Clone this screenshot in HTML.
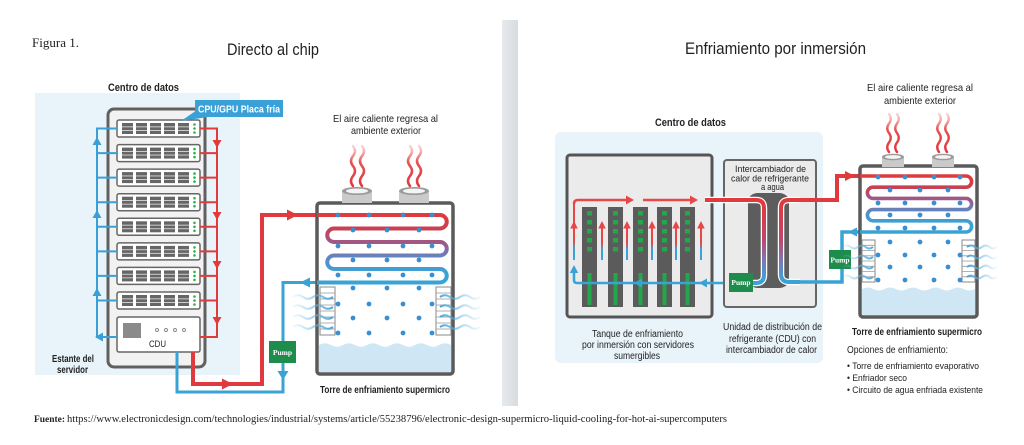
<!DOCTYPE html>
<html>
<head>
<meta charset="utf-8">
<style>
html,body{margin:0;padding:0;background:#fff;}
svg{display:block;}
text{font-family:"Liberation Sans",Arial,sans-serif;fill:#222;}
.serif{font-family:"Liberation Serif","Times New Roman",serif;}
</style>
</head>
<body>
<svg width="1024" height="445" viewBox="0 0 1024 445" xmlns="http://www.w3.org/2000/svg">
<defs>
  <linearGradient id="coilL" gradientUnits="userSpaceOnUse" x1="0" y1="215" x2="0" y2="283">
    <stop offset="0" stop-color="#e03a3e"/>
    <stop offset="0.2" stop-color="#c9404f"/>
    <stop offset="0.42" stop-color="#9a5a8c"/>
    <stop offset="0.65" stop-color="#5a8cc8"/>
    <stop offset="0.85" stop-color="#3aa3d6"/>
  </linearGradient>
  <linearGradient id="coilR" gradientUnits="userSpaceOnUse" x1="0" y1="176" x2="0" y2="232">
    <stop offset="0" stop-color="#e03a3e"/>
    <stop offset="0.2" stop-color="#c9404f"/>
    <stop offset="0.42" stop-color="#9a5a8c"/>
    <stop offset="0.65" stop-color="#5a8cc8"/>
    <stop offset="0.85" stop-color="#3aa3d6"/>
  </linearGradient>
  <linearGradient id="hx" gradientUnits="userSpaceOnUse" x1="0" y1="205" x2="0" y2="280">
    <stop offset="0" stop-color="#e03a3e"/>
    <stop offset="0.45" stop-color="#c2456a"/>
    <stop offset="0.75" stop-color="#7a7ab8"/>
    <stop offset="1" stop-color="#3aa3d6"/>
  </linearGradient>
  <linearGradient id="steam" x1="0" y1="1" x2="0" y2="0">
    <stop offset="0" stop-color="#e03a3e" stop-opacity="1"/>
    <stop offset="0.6" stop-color="#e44848" stop-opacity="0.95"/>
    <stop offset="1" stop-color="#f08888" stop-opacity="0.35"/>
  </linearGradient>
  <linearGradient id="airL" x1="0" y1="0" x2="1" y2="0">
    <stop offset="0" stop-color="#7cc3e6" stop-opacity="0.1"/>
    <stop offset="1" stop-color="#4aa6da" stop-opacity="1"/>
  </linearGradient>
  <linearGradient id="airR" x1="0" y1="0" x2="1" y2="0">
    <stop offset="0" stop-color="#4aa6da" stop-opacity="1"/>
    <stop offset="1" stop-color="#7cc3e6" stop-opacity="0.1"/>
  </linearGradient>
  <linearGradient id="tankArr" x1="0" y1="0" x2="0" y2="1">
    <stop offset="0" stop-color="#e8474a"/>
    <stop offset="0.5" stop-color="#e8474a"/>
    <stop offset="0.68" stop-color="#3aa3d6"/>
    <stop offset="1" stop-color="#3aa3d6"/>
  </linearGradient>
  <linearGradient id="tankArrL" x1="0" y1="0" x2="0" y2="1">
    <stop offset="0" stop-color="#e8474a"/>
    <stop offset="0.65" stop-color="#e8474a"/>
    <stop offset="0.82" stop-color="#3aa3d6"/>
    <stop offset="1" stop-color="#3aa3d6"/>
  </linearGradient>
  <linearGradient id="div" x1="0" y1="0" x2="1" y2="0">
    <stop offset="0" stop-color="#e6eaed"/>
    <stop offset="1" stop-color="#d6dce0"/>
  </linearGradient>

  <g id="blk">
    <rect width="11" height="11" fill="#666"/>
    <rect y="3.4" width="11" height="0.9" fill="#d8d8d8"/>
    <rect y="7" width="11" height="0.9" fill="#d8d8d8"/>
  </g>
  <g id="unit">
    <rect x="0" y="0" width="83" height="17" rx="2" fill="#fff" stroke="#666" stroke-width="1.5"/>
    <use href="#blk" x="5" y="3"/>
    <use href="#blk" x="19" y="3"/>
    <use href="#blk" x="33" y="3"/>
    <use href="#blk" x="47" y="3"/>
    <use href="#blk" x="61" y="3"/>
    <circle cx="77.5" cy="4.5" r="1.3" fill="#2db34a"/>
    <circle cx="77.5" cy="8.5" r="1.3" fill="#2db34a"/>
    <circle cx="77.5" cy="12.5" r="1.3" fill="#2db34a"/>
  </g>
  <g id="blade">
    <rect width="15" height="100" fill="#5b5b5b"/>
    <rect x="5" y="4" width="5" height="4.5" fill="#22a84a"/>
    <rect x="5" y="13" width="5" height="4.5" fill="#22a84a"/>
    <rect x="5" y="22" width="5" height="4.5" fill="#22a84a"/>
    <rect x="5" y="31" width="5" height="4.5" fill="#22a84a"/>
    <rect x="5" y="40" width="5" height="4.5" fill="#22a84a"/>
    <rect x="5.5" y="66" width="4" height="32" fill="#22a84a"/>
  </g>
  <g id="tarr">
    <rect x="-1" y="5" width="2" height="34" fill="url(#tankArr)"/>
    <polygon points="0,0 -3.8,7.5 3.8,7.5" fill="#e8474a"/>
  </g>
  <circle id="drop" r="2.4" fill="#3b8fd1"/>
  <path id="wave" d="M0,0 q5,-3.5 10,0 t10,0 t10,0 t10,0" fill="none" stroke-width="2"/>
  <path id="waveS" d="M0,0 q4,-3 7.5,0 t7.5,0 t7.5,0 t7.5,0" fill="none" stroke-width="2"/>
  <path id="stm" d="M0,0 q-4,-5 0,-10 t0,-10 t0,-10 t0,-10" fill="none" stroke="url(#steam)" stroke-width="2.5" stroke-linecap="round"/>
  <path id="stmS" d="M0,0 q-3.5,-4.75 0,-9.5 t0,-9.5 t0,-9.5 t0,-9.5" fill="none" stroke="url(#steam)" stroke-width="2.4" stroke-linecap="round"/>
</defs>

<!-- ===== LEFT PANEL ===== -->
<text class="serif" x="32" y="47" font-size="13" textLength="47" lengthAdjust="spacingAndGlyphs">Figura 1.</text>
<text x="227" y="55" font-size="16.5" textLength="92" lengthAdjust="spacingAndGlyphs">Directo al chip</text>

<rect x="35" y="93" width="205" height="282" fill="#e9f3fa"/>
<text x="108" y="91" font-size="11" font-weight="bold" textLength="71" lengthAdjust="spacingAndGlyphs">Centro de datos</text>

<!-- rack -->
<rect x="108" y="109" width="97" height="258" rx="6" fill="#f2f2f2" stroke="#606060" stroke-width="3"/>
<use href="#unit" x="117" y="120"/>
<use href="#unit" x="117" y="144.6"/>
<use href="#unit" x="117" y="169.1"/>
<use href="#unit" x="117" y="193.7"/>
<use href="#unit" x="117" y="218.3"/>
<use href="#unit" x="117" y="242.9"/>
<use href="#unit" x="117" y="267.4"/>
<use href="#unit" x="117" y="292"/>
<!-- CDU -->
<rect x="117" y="317" width="83" height="35" rx="2" fill="#fff" stroke="#666" stroke-width="1.5"/>
<rect x="123" y="323" width="18" height="15" fill="#8a8a8a"/>
<g fill="none" stroke="#888" stroke-width="0.9">
  <circle cx="157" cy="330" r="1.5"/><circle cx="166" cy="330" r="1.5"/><circle cx="175" cy="330" r="1.5"/><circle cx="184" cy="330" r="1.5"/>
</g>
<text x="149" y="347" font-size="9" fill="#444" textLength="17" lengthAdjust="spacingAndGlyphs">CDU</text>

<!-- blue manifold -->
<g stroke="#3a9fd5" stroke-width="2" fill="none">
  <path d="M117,128.5 H97 V337 H101"/>
  <path d="M97,153.1 H117 M97,177.6 H117 M97,202.2 H117 M97,226.8 H117 M97,251.4 H117 M97,275.9 H117 M97,300.5 H117 M101,337 H117"/>
</g>
<g fill="#3a9fd5">
  <polygon points="97,137 92.5,145 101.5,145"/>
  <polygon points="97,210 92.5,218 101.5,218"/>
  <polygon points="97,288 92.5,296 101.5,296"/>
  <polygon points="95,337 103,332.5 103,341.5"/>
</g>
<!-- red manifold -->
<g stroke="#e23b3b" stroke-width="2" fill="none">
  <path d="M200,128.5 H217 V337 H200"/>
  <path d="M200,153.1 H217 M200,177.6 H217 M200,202.2 H217 M200,226.8 H217 M200,251.4 H217 M200,275.9 H217 M200,300.5 H217"/>
</g>
<g fill="#e23b3b">
  <polygon points="217,148 212.5,140 221.5,140"/>
  <polygon points="217,220 212.5,212 221.5,212"/>
  <polygon points="217,269 212.5,261 221.5,261"/>
  <polygon points="217,325 212.5,317 221.5,317"/>
</g>

<!-- CPU/GPU label -->
<polygon points="197,110 208,117 181,121" fill="#3aa0d8"/>
<rect x="195" y="100" width="88" height="17" fill="#3aa0d8"/>
<text x="198" y="112.5" font-size="10.5" font-weight="bold" style="fill:#fff" textLength="82" lengthAdjust="spacingAndGlyphs">CPU/GPU Placa fría</text>

<text x="52" y="362" font-size="10.5" font-weight="bold" textLength="42" lengthAdjust="spacingAndGlyphs">Estante del</text>
<text x="57" y="373" font-size="10.5" font-weight="bold" textLength="31" lengthAdjust="spacingAndGlyphs">servidor</text>

<!-- pipes to tower -->
<path d="M177,352 V392 H283 V282.5 H318" fill="none" stroke="#3aa3d6" stroke-width="3"/>
<path d="M193,352 V384 H262 V215 H318" fill="none" stroke="#e03a3e" stroke-width="4"/>
<polygon points="222,378.5 233,384 222,389.5" fill="#e03a3e"/>
<polygon points="287,209.5 298,215 287,220.5" fill="#e03a3e"/>
<polygon points="300,282.5 310,277.5 310,287.5" fill="#3aa3d6"/>
<polygon points="277.5,371 288.5,371 283,380" fill="#3aa3d6"/>
<rect x="269" y="341" width="27" height="22" fill="#1d8c4c"/>
<text class="serif" x="282.5" y="355" font-size="7.5" font-weight="bold" text-anchor="middle" style="fill:#fff">Pump</text>

<!-- left tower -->
<rect x="317" y="203" width="136" height="171" rx="3" fill="#fff" stroke="#5a5a5a" stroke-width="3.5"/>
<path d="M319,345 q6,-3.5 12,0 t12,0 t12,0 t12,0 t12,0 t12,0 t12,0 t12,0 t12,0 t12,0 t12,0 V372 H319 Z" fill="#cfe7f4"/>
<g fill="#fff" stroke="#8a8a8a" stroke-width="1">
  <rect x="320" y="287" width="15" height="48"/>
  <rect x="436" y="287" width="15" height="48"/>
</g>
<g stroke="#999" stroke-width="0.8">
  <path d="M320,293 H335 M320,299 H335 M320,305 H335 M320,311 H335 M320,317 H335 M320,323 H335 M320,329 H335"/>
  <path d="M436,293 H451 M436,299 H451 M436,305 H451 M436,311 H451 M436,317 H451 M436,323 H451 M436,329 H451"/>
</g>
<path d="M317,215 H440 A6.75,6.75 0 0 1 440,228.5 H334 A6.75,6.75 0 0 0 334,242 H440 A6.75,6.75 0 0 1 440,255.5 H334 A6.75,6.75 0 0 0 334,269 H440 A6.75,6.75 0 0 1 440,282.5 H317" fill="none" stroke="url(#coilL)" stroke-width="4"/>
<g>
  <use href="#drop" x="338" y="215"/><use href="#drop" x="369" y="215"/><use href="#drop" x="403" y="215"/><use href="#drop" x="432" y="215"/>
  <use href="#drop" x="353" y="230"/><use href="#drop" x="387" y="230"/><use href="#drop" x="419" y="230"/>
  <use href="#drop" x="338" y="246"/><use href="#drop" x="369" y="246"/><use href="#drop" x="403" y="246"/><use href="#drop" x="432" y="246"/>
  <use href="#drop" x="353" y="260"/><use href="#drop" x="387" y="260"/><use href="#drop" x="419" y="260"/>
  <use href="#drop" x="338" y="275"/><use href="#drop" x="369" y="275"/><use href="#drop" x="403" y="275"/><use href="#drop" x="432" y="275"/>
  <use href="#drop" x="353" y="288"/><use href="#drop" x="387" y="288"/><use href="#drop" x="419" y="288"/>
  <use href="#drop" x="338" y="304"/><use href="#drop" x="369" y="304"/><use href="#drop" x="403" y="304"/><use href="#drop" x="432" y="304"/>
  <use href="#drop" x="353" y="318"/><use href="#drop" x="387" y="318"/><use href="#drop" x="419" y="318"/>
  <use href="#drop" x="338" y="333"/><use href="#drop" x="369" y="333"/><use href="#drop" x="403" y="333"/><use href="#drop" x="432" y="333"/>
</g>
<g stroke="url(#airL)">
  <use href="#wave" x="293" y="297"/><use href="#wave" x="293" y="307"/><use href="#wave" x="293" y="317"/><use href="#wave" x="293" y="327"/>
</g>
<g stroke="url(#airR)">
  <use href="#wave" x="440" y="297"/><use href="#wave" x="440" y="307"/><use href="#wave" x="440" y="317"/><use href="#wave" x="440" y="327"/>
</g>
<!-- stacks -->
<rect x="342" y="191" width="30" height="12" fill="#cacaca"/>
<ellipse cx="357" cy="191" rx="15" ry="4" fill="#9a9a9a"/>
<ellipse cx="357" cy="191" rx="11" ry="2.4" fill="#f4f4f4"/>
<rect x="399" y="191" width="30" height="12" fill="#cacaca"/>
<ellipse cx="414" cy="191" rx="15" ry="4" fill="#9a9a9a"/>
<ellipse cx="414" cy="191" rx="11" ry="2.4" fill="#f4f4f4"/>
<use href="#stm" x="353" y="186"/><use href="#stm" x="362" y="186"/>
<use href="#stm" x="410" y="186"/><use href="#stm" x="419" y="186"/>

<text x="333" y="122" font-size="10.5" textLength="105" lengthAdjust="spacingAndGlyphs">El aire caliente regresa al</text>
<text x="351" y="134" font-size="10.5" textLength="70" lengthAdjust="spacingAndGlyphs">ambiente exterior</text>
<text x="320" y="393" font-size="10.5" font-weight="bold" textLength="130" lengthAdjust="spacingAndGlyphs">Torre de enfriamiento supermicro</text>

<!-- divider -->
<rect x="502" y="20" width="16" height="386" fill="url(#div)"/>

<!-- ===== RIGHT PANEL ===== -->
<text x="685" y="54" font-size="16.5" textLength="181" lengthAdjust="spacingAndGlyphs">Enfriamiento por inmersión</text>
<rect x="555" y="132" width="268" height="231" rx="6" fill="#e9f3fa"/>
<text x="655" y="126" font-size="11" font-weight="bold" textLength="71" lengthAdjust="spacingAndGlyphs">Centro de datos</text>

<!-- tank -->
<rect x="567" y="155" width="145" height="162" rx="3" fill="#ebebeb" stroke="#555" stroke-width="3"/>
<use href="#blade" x="582" y="207"/>
<use href="#blade" x="608" y="207"/>
<use href="#blade" x="633" y="207"/>
<use href="#blade" x="657" y="207"/>
<use href="#blade" x="680" y="207"/>
<use href="#tarr" x="602" y="221"/>
<use href="#tarr" x="627" y="221"/>
<use href="#tarr" x="652" y="221"/>
<use href="#tarr" x="676" y="221"/>
<use href="#tarr" x="701" y="221"/>
<!-- leftmost long arrow -->
<rect x="573" y="203" width="2" height="57" fill="url(#tankArrL)"/>
<polygon points="574,221 570.2,228.5 577.8,228.5" fill="#e8474a"/>
<path d="M574,204 Q574,200 578,200 H628" fill="none" stroke="#e8474a" stroke-width="2.5"/>
<polygon points="634,200 626,195.5 626,204.5" fill="#e8474a"/>
<path d="M643,200 H692" fill="none" stroke="#e8474a" stroke-width="2.5"/>
<polygon points="698,200 690,195.5 690,204.5" fill="#e8474a"/>
<!-- blue bottom -->
<path d="M729,283 H577 Q574,283 574,280 V272" fill="none" stroke="#3aa3d6" stroke-width="2.5"/>
<polygon points="574,265 569.8,273 578.2,273" fill="#3aa3d6"/>
<polygon points="634,283 642,278.5 642,287.5" fill="#3aa3d6"/>
<polygon points="699,283 707,278.5 707,287.5" fill="#3aa3d6"/>

<!-- heat exchanger -->
<rect x="724" y="160" width="92" height="147" rx="3" fill="#ebebeb" stroke="#666" stroke-width="2"/>
<text x="735" y="172" font-size="9.5" fill="#333" textLength="71" lengthAdjust="spacingAndGlyphs">Intercambiador de</text>
<text x="731" y="181.5" font-size="9.5" fill="#333" textLength="78" lengthAdjust="spacingAndGlyphs">calor de refrigerante</text>
<text x="761" y="190" font-size="9.5" fill="#333" textLength="23" lengthAdjust="spacingAndGlyphs">a agua</text>
<rect x="748" y="193" width="41" height="95" rx="10" ry="8" fill="#5d5d5d"/>
<!-- pipe A -->
<path d="M705,200 H756 Q764,200 764,208 V275 Q764,283 756,283 H752" fill="none" stroke="#fff" stroke-width="6.5"/>
<path d="M705,200 H756 Q764,200 764,208 V275 Q764,283 756,283 H752" fill="none" stroke="url(#hx)" stroke-width="4"/>
<!-- pipe B -->
<path d="M800,282 H789 Q781,282 781,274 V208 Q781,200 789,200 H800" fill="none" stroke="#fff" stroke-width="6.5"/>
<path d="M800,282 H789 Q781,282 781,274 V208 Q781,200 789,200 H800" fill="none" stroke="url(#hx)" stroke-width="4"/>
<rect x="729" y="273" width="24" height="19" fill="#1d8c4c"/>
<text class="serif" x="741" y="285" font-size="7.5" font-weight="bold" text-anchor="middle" style="fill:#fff">Pump</text>

<!-- external pipes right -->
<path d="M799,200 H837 V176 H862" fill="none" stroke="#e03a3e" stroke-width="4"/>
<path d="M862,232 H842 V282 H799" fill="none" stroke="#3aa3d6" stroke-width="3.5"/>
<polygon points="855,176 845,171 845,181" fill="#e03a3e"/>
<polygon points="848,232 857,227.5 857,236.5" fill="#3aa3d6"/>
<rect x="829" y="250" width="22" height="19" fill="#1d8c4c"/>
<text class="serif" x="840" y="262.5" font-size="7.5" font-weight="bold" text-anchor="middle" style="fill:#fff">Pump</text>

<!-- right tower -->
<rect x="860" y="166" width="117" height="151" rx="3" fill="#fff" stroke="#5a5a5a" stroke-width="3.5"/>
<path d="M862,289 q5.65,-3 11.3,0 t11.3,0 t11.3,0 t11.3,0 t11.3,0 t11.3,0 t11.3,0 t11.3,0 t11.3,0 t11.3,0 V315 H862 Z" fill="#cfe7f4"/>
<g fill="#fff" stroke="#8a8a8a" stroke-width="1">
  <rect x="862" y="240" width="13" height="42"/>
  <rect x="962" y="240" width="13" height="42"/>
</g>
<g stroke="#999" stroke-width="0.8">
  <path d="M862,245.3 H875 M862,250.5 H875 M862,255.8 H875 M862,261 H875 M862,266.3 H875 M862,271.5 H875 M862,276.8 H875"/>
  <path d="M962,245.3 H975 M962,250.5 H975 M962,255.8 H975 M962,261 H975 M962,266.3 H975 M962,271.5 H975 M962,276.8 H975"/>
</g>
<path d="M860,176 H966 A5.6,5.6 0 0 1 966,187.2 H873 A5.6,5.6 0 0 0 873,198.4 H966 A5.6,5.6 0 0 1 966,209.6 H873 A5.6,5.6 0 0 0 873,220.8 H966 A5.6,5.6 0 0 1 966,232 H860" fill="none" stroke="url(#coilR)" stroke-width="3.6"/>
<g>
  <use href="#drop" x="878" y="177"/><use href="#drop" x="905" y="177"/><use href="#drop" x="934" y="177"/><use href="#drop" x="960" y="177"/>
  <use href="#drop" x="890" y="190"/><use href="#drop" x="920" y="190"/><use href="#drop" x="948" y="190"/>
  <use href="#drop" x="878" y="203"/><use href="#drop" x="905" y="203"/><use href="#drop" x="934" y="203"/><use href="#drop" x="960" y="203"/>
  <use href="#drop" x="890" y="215"/><use href="#drop" x="920" y="215"/><use href="#drop" x="948" y="215"/>
  <use href="#drop" x="878" y="228"/><use href="#drop" x="905" y="228"/><use href="#drop" x="934" y="228"/><use href="#drop" x="960" y="228"/>
  <use href="#drop" x="890" y="242"/><use href="#drop" x="920" y="242"/><use href="#drop" x="948" y="242"/>
  <use href="#drop" x="878" y="255"/><use href="#drop" x="905" y="255"/><use href="#drop" x="934" y="255"/><use href="#drop" x="960" y="255"/>
  <use href="#drop" x="890" y="267"/><use href="#drop" x="920" y="267"/><use href="#drop" x="948" y="267"/>
  <use href="#drop" x="878" y="280"/><use href="#drop" x="905" y="280"/><use href="#drop" x="934" y="280"/><use href="#drop" x="960" y="280"/>
</g>
<g stroke="url(#airL)">
  <use href="#waveS" x="843" y="247"/><use href="#waveS" x="843" y="257"/><use href="#waveS" x="843" y="267"/><use href="#waveS" x="843" y="277"/>
</g>
<g stroke="url(#airR)">
  <use href="#waveS" x="967" y="247"/><use href="#waveS" x="967" y="257"/><use href="#waveS" x="967" y="267"/><use href="#waveS" x="967" y="277"/>
</g>
<rect x="882" y="157" width="22" height="10" fill="#cacaca"/>
<ellipse cx="893" cy="157" rx="11" ry="3.3" fill="#9a9a9a"/>
<ellipse cx="893" cy="157" rx="8" ry="1.9" fill="#f4f4f4"/>
<rect x="932" y="157" width="22" height="10" fill="#cacaca"/>
<ellipse cx="943" cy="157" rx="11" ry="3.3" fill="#9a9a9a"/>
<ellipse cx="943" cy="157" rx="8" ry="1.9" fill="#f4f4f4"/>
<use href="#stmS" x="889" y="152"/><use href="#stmS" x="897" y="152"/>
<use href="#stmS" x="939" y="152"/><use href="#stmS" x="947" y="152"/>

<text x="867" y="91" font-size="10.5" textLength="106" lengthAdjust="spacingAndGlyphs">El aire caliente regresa al</text>
<text x="884" y="104" font-size="10.5" textLength="72" lengthAdjust="spacingAndGlyphs">ambiente exterior</text>

<!-- right labels -->
<text x="592" y="337" font-size="10" textLength="91" lengthAdjust="spacingAndGlyphs">Tanque de enfriamiento</text>
<text x="582" y="348" font-size="10" textLength="112" lengthAdjust="spacingAndGlyphs">por inmersión con servidores</text>
<text x="614" y="359" font-size="10" textLength="46" lengthAdjust="spacingAndGlyphs">sumergibles</text>
<text x="723" y="330" font-size="10" textLength="99" lengthAdjust="spacingAndGlyphs">Unidad de distribución de</text>
<text x="729" y="342" font-size="10" textLength="87" lengthAdjust="spacingAndGlyphs">refrigerante (CDU) con</text>
<text x="726" y="353" font-size="10" textLength="91" lengthAdjust="spacingAndGlyphs">intercambiador de calor</text>

<text x="852" y="335" font-size="10.5" font-weight="bold" textLength="130" lengthAdjust="spacingAndGlyphs">Torre de enfriamiento supermicro</text>
<text x="847" y="353" font-size="10" textLength="101" lengthAdjust="spacingAndGlyphs">Opciones de enfriamiento:</text>
<text x="847" y="369" font-size="9.5" textLength="132" lengthAdjust="spacingAndGlyphs">• Torre de enfriamiento evaporativo</text>
<text x="847" y="381" font-size="9.5" textLength="60" lengthAdjust="spacingAndGlyphs">• Enfriador seco</text>
<text x="847" y="393" font-size="9.5" textLength="136" lengthAdjust="spacingAndGlyphs">• Circuito de agua enfriada existente</text>

<!-- footer -->
<text class="serif" x="34" y="422" font-size="9.5" font-weight="bold" textLength="31" lengthAdjust="spacingAndGlyphs">Fuente:</text>
<text class="serif" x="67" y="422" font-size="10" textLength="660" lengthAdjust="spacingAndGlyphs">https://www.electronicdesign.com/technologies/industrial/systems/article/55238796/electronic-design-supermicro-liquid-cooling-for-hot-ai-supercomputers</text>
</svg>
</body>
</html>
